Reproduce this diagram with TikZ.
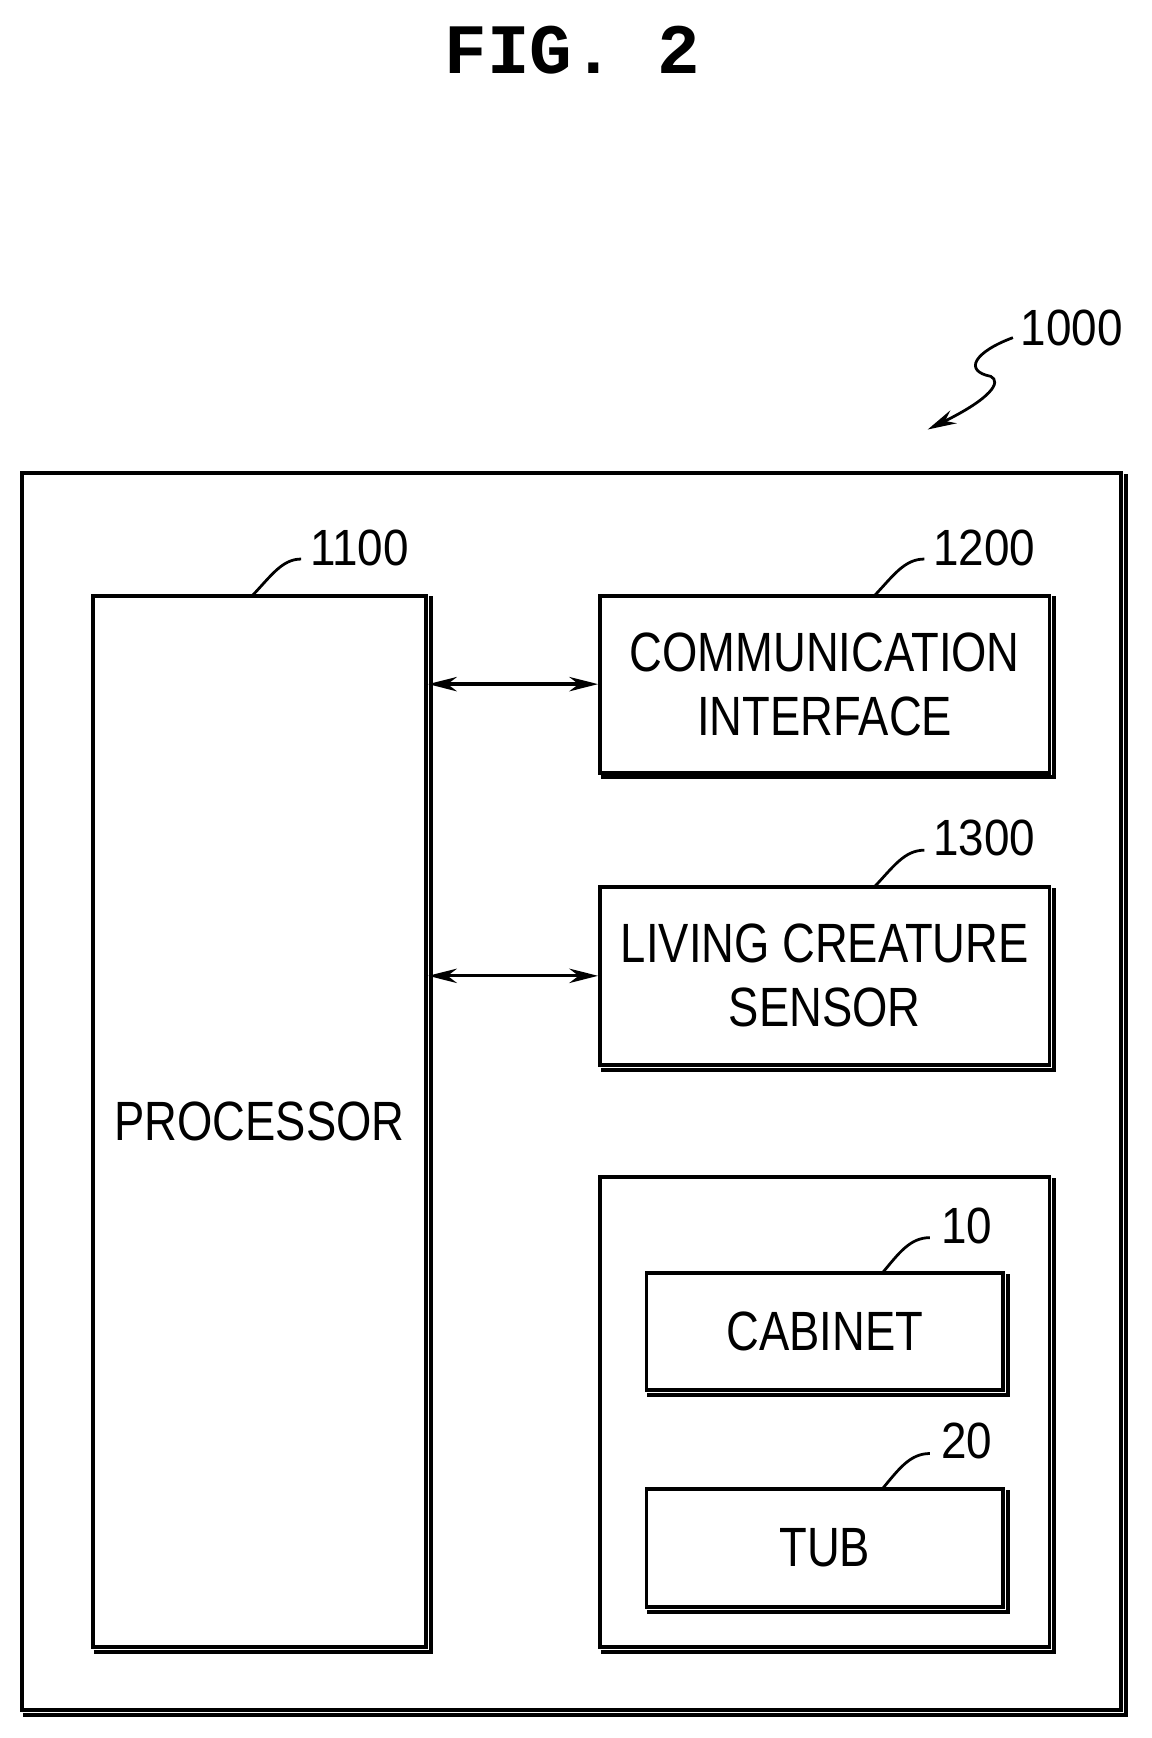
\documentclass[tikz,border=0pt]{standalone}
\usepackage{fontspec}
\setmainfont{Liberation Sans}[FakeStretch=0.82]
\newfontfamily\titlefont{Liberation Mono}
\newfontfamily\reffont{Liberation Sans}[FakeStretch=0.9]
\usetikzlibrary{arrows.meta}

\begin{document}
\begin{tikzpicture}[x=1pt,y=-1pt,>={Stealth[length=26pt,width=13pt]},
    block/.style={draw,line width=3.5pt,rectangle,inner sep=0pt,font=\fontsize{50}{58}\selectfont,align=center},
    ref/.style={font=\reffont\fontsize{46}{50}\selectfont,anchor=west,inner sep=0pt},
    lead/.style={line width=2.5pt}]
      \useasboundingbox (0,0) rectangle (1040,1570);
      \node[font=\titlefont\bfseries\fontsize{64}{70}\selectfont] (fig) at (517,45) {FIG.\ 2};

      \node[block,minimum width=993pt,minimum height=1118pt] (dev) at (516.5,986) {};
      \node[block,minimum width=301pt,minimum height=950pt] (proc) at (234.5,1013) {PROCESSOR};
      \node[block,minimum width=406pt,minimum height=160pt] (comm) at (745,618) {COMMUNICATION\\INTERFACE};
      \node[block,minimum width=406pt,minimum height=161pt] (sens) at (745,881.5) {LIVING CREATURE\\SENSOR};
      \node[block,minimum width=406pt,minimum height=425pt] (wash) at (745,1275.5) {};
      \node[block,minimum width=322pt,minimum height=106pt] (cab) at (745,1203) {CABINET};
      \node[block,minimum width=322pt,minimum height=107pt] (tub) at (745,1398.5) {TUB};
      % heavier bottom and right edges
      \foreach \n in {dev,proc,comm,sens,wash,cab,tub}
        \draw[line width=3.5pt] ([shift={(2.5pt,-2.5pt)}]\n.south west) -- ([shift={(2.5pt,-2.5pt)}]\n.south east)
          -- ([shift={(2.5pt,-2.5pt)}]\n.north east);

      % reference numerals
      \node[ref] (r1000) at (922,296) {1000};
      \node[ref] (r1100) at (280,495) {1100};
      \node[ref] (r1200) at (843,495) {1200};
      \node[ref] (r1300) at (843,757) {1300};
      \node[ref] (r10) at (850,1107) {10};
      \node[ref] (r20) at (850,1302) {20};

      \coordinate (tip) at (838,388);
      \draw[lead] (228,538) .. controls (245,520) and (255,505) .. (272,505);
      \draw[lead] (790,538) .. controls (807,520) and (817,505) .. (835,505);
      \draw[lead] (790,801) .. controls (807,783) and (817,768) .. (835,768);
      \draw[lead] (797,1150) .. controls (812,1132) and (822,1118) .. (840,1118);
      \draw[lead] (797,1345) .. controls (812,1327) and (822,1313) .. (840,1313);
      \draw[lead,->] (915,305) .. controls (880,318) and (870,335) .. (895,340)
        .. controls (905,345) and (895,360) .. (tip);

      \draw[line width=3pt,<->] (proc.east |- comm) -- (comm.west);
      \draw[line width=3pt,<->] (proc.east |- sens) -- (sens.west);
    \end{tikzpicture}
\end{document}
